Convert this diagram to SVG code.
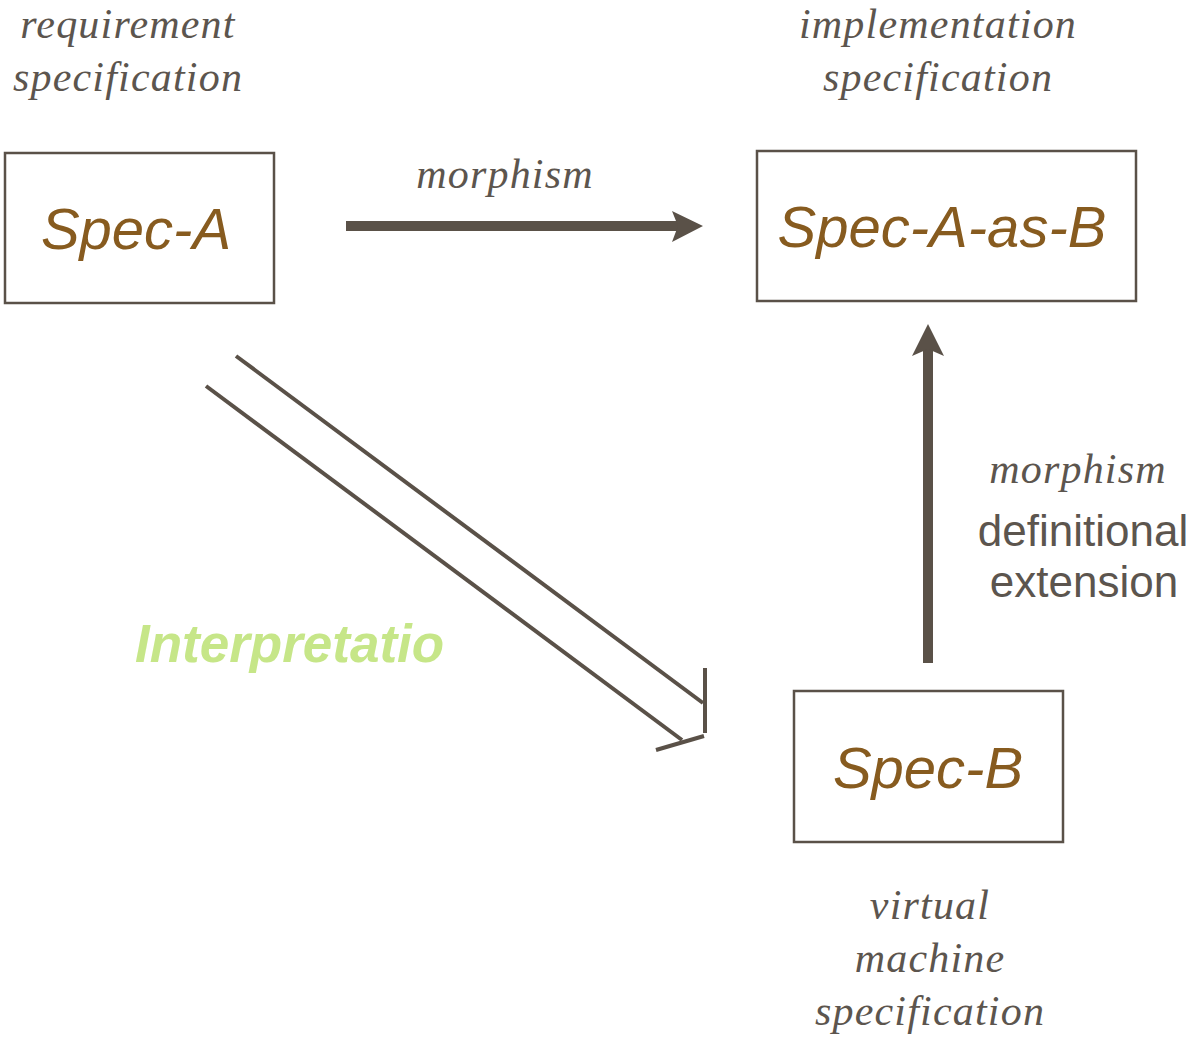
<svg xmlns="http://www.w3.org/2000/svg" width="1203" height="1038" viewBox="0 0 1203 1038">
  <style>
    .box { fill: #ffffff; stroke: #5a5148; stroke-width: 2.5; }
    .spec { font-family: "Liberation Sans", Arial, sans-serif; font-style: italic; font-size: 58px; fill: #875b1f; text-anchor: middle; }
    .note { font-family: "Liberation Serif", "Times New Roman", serif; font-style: italic; font-size: 42px; letter-spacing: 1.2px; fill: #5c554e; text-anchor: middle; }
    .plain { font-family: "Liberation Sans", Arial, sans-serif; font-size: 44px; fill: #5c554e; text-anchor: middle; }
    .interp { font-family: "Liberation Sans", Arial, sans-serif; font-style: italic; font-weight: bold; font-size: 53px; fill: #c6e688; }
    .thin { fill: none; stroke: #5a5148; stroke-width: 4; stroke-linecap: butt; }
    .head { fill: #5a5148; stroke: none; }
  </style>

  <!-- captions -->
  <g id="caption-requirement">
    <text class="note" x="128" y="38">requirement</text>
    <text class="note" x="128" y="91">specification</text>
  </g>
  <g id="caption-implementation">
    <text class="note" x="938" y="38">implementation</text>
    <text class="note" x="938" y="91">specification</text>
  </g>
  <g id="caption-virtual-machine">
    <text class="note" x="930" y="919">virtual</text>
    <text class="note" x="930" y="972">machine</text>
    <text class="note" x="930" y="1025">specification</text>
  </g>

  <!-- nodes -->
  <g id="spec-a">
    <rect class="box" x="5" y="153" width="269" height="150"/>
    <text class="spec" x="136" y="249">Spec-A</text>
  </g>
  <g id="spec-a-as-b">
    <rect class="box" x="757" y="151" width="379" height="150"/>
    <text class="spec" x="942" y="247">Spec-A-as-B</text>
  </g>
  <g id="spec-b">
    <rect class="box" x="794" y="691" width="269" height="151"/>
    <text class="spec" x="928" y="788">Spec-B</text>
  </g>

  <!-- connectors -->
  <g id="connectors">
    <!-- morphism Spec-A -> Spec-A-as-B -->
    <rect class="head" x="346" y="221" width="334" height="10"/>
    <polygon class="head" points="703,226 672,211 678,226 672,242"/>
    <text class="note" x="505" y="188">morphism</text>

    <!-- definitional extension Spec-B -> Spec-A-as-B -->
    <rect class="head" x="923" y="348" width="10" height="315"/>
    <polygon class="head" points="928,324 912,356 928,349 944,356"/>
    <text class="note" x="1078" y="483">morphism</text>
    <text class="plain" x="1083" y="546">definitional</text>
    <text class="plain" x="1084" y="597">extension</text>

    <!-- interpretation Spec-A => Spec-B -->
    <line class="thin" x1="236" y1="356" x2="703" y2="703"/>
    <line class="thin" x1="206" y1="386" x2="682" y2="740"/>
    <line class="thin" x1="705" y1="668" x2="705" y2="733"/>
    <line class="thin" x1="704" y1="736" x2="656" y2="750"/>
    <text class="interp" x="135" y="662">Interpretatio</text>
  </g>
</svg>
